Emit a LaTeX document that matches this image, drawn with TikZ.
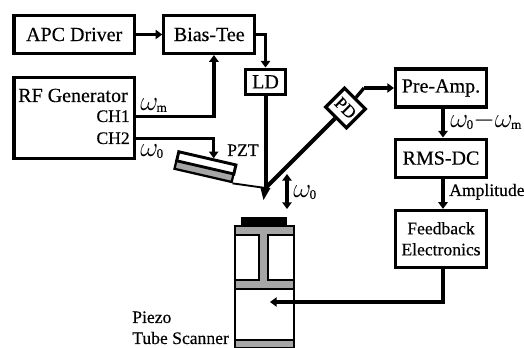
\documentclass[tikz,border=0pt]{standalone}
\usepackage{fontspec}
\setmainfont{Liberation Serif}[RawFeature={embolden=0.35}]
\usepackage{amsmath, amssymb}
\usetikzlibrary{arrows.meta, positioning, calc}

\newcommand{\bigfont}{\fontsize{15}{18}\selectfont}
\newcommand{\smallfont}{\fontsize{13.2}{15.8}\selectfont}
\newcommand{\omegafont}{\fontsize{20}{24}\selectfont}
\newcommand{\wsub}[1]{\mkern-1mu\raisebox{-0.7pt}{$\scriptscriptstyle\mathrm{#1}$}}

\begin{document}
\begin{tikzpicture}[
    x=0.75pt, y=-0.75pt,
    box/.style={rectangle, draw, line width=2.4pt, align=center, inner sep=0pt, font=\bigfont},
    wire/.style={line width=2.5pt},
    arrow/.style={wire, -{Triangle[length=5pt,width=7pt]}},
    beam/.style={line width=3pt},
    lbl/.style={inner sep=0pt, font=\smallfont},
    omegalbl/.style={inner sep=0pt, font=\omegafont},
    tube/.style={draw, line width=1.7pt}
  ]
    \useasboundingbox (0,0) rectangle (524,348);

    % left column
    \node[box, minimum width=90.4pt, minimum height=28.5pt] (apc) at (74.2,34.5) {APC Driver};
    \node[box, minimum width=68.2pt, minimum height=28.5pt, right=19.6pt of apc] (bias) {Bias-Tee};
    \node[box, minimum width=30pt, minimum height=19pt] (ld) at (265.5,81.8) {LD};
    \node[box, minimum width=90.4pt, minimum height=60.7pt] (rf) at (74.2,118) {};
    \node[lbl, font=\bigfont, anchor=base west] (rfname) at (18,102) {RF Generator};
    \node[lbl, anchor=base east] (ch1) at (130,122) {CH1};
    \node[lbl, anchor=base east] (ch2) at (130,144) {CH2};

    % right column
    \node[box, minimum width=68.2pt, minimum height=28.5pt] (preamp) at (441,88) {Pre-Amp.};
    \node[box, minimum width=68.2pt, minimum height=28.5pt, below=21.7pt of preamp] (rms) {RMS-DC};
    \node[box, minimum width=68.2pt, minimum height=42.5pt, below=22.6pt of rms, font=\smallfont] (feedback) {Feedback\\Electronics};

    % PZT and cantilever
    \node[draw, line width=2.2pt, fill=white, rotate=-13, minimum width=44pt, minimum height=7pt, inner sep=0pt] (pzt) at (206.3,162.9) {};
    \node[draw, line width=1.7pt, fill=black!35, rotate=-13, minimum width=44pt, minimum height=6pt, inner sep=0pt] (pzthalf) at (204,171.5) {};
    \node[lbl, anchor=base west] (pztname) at (227,156) {PZT};
    \coordinate (tip) at (265.5,188);
    \coordinate (tipend) at (263.5,200);
    \fill ($(tip)+(-5,0)$) -- ($(tip)+(5,0)$) -- (tipend) -- cycle;
    \draw[line width=1.4pt] (pzthalf.south east) -- (tip);

    % photodiode
    \node[box, fill=white, rotate=-45, minimum width=22pt, minimum height=20pt, font=\smallfont] (pd) at (345.5,108) {PD};
    \coordinate (pdturn) at (364,88);
    \draw[beam] (ld) -- (tip);
    \draw[beam] (tip) -- (pd);

    % scanner
    \fill (241,217) rectangle (287,226);
    \draw[tube, fill=black!35] (235,226) rectangle (294,348);
    \draw[tube, fill=white] (235,235) rectangle (259,280);
    \draw[tube, fill=white] (268,235) rectangle (294,280);
    \draw[tube, fill=white] (235,289) rectangle (294,340);
    \coordinate (scanin) at (270,302);

    % wires
    \draw[arrow] (apc) -- (bias);
    \draw[arrow] (rf.east |- ch1) -| ([xshift=3.5pt]bias.south);
    \draw[arrow] (bias.east) -| (ld.north);
    \draw[arrow] (rf.east |- ch2) -| ([xshift=4.5pt,yshift=-1pt]pzt.north);
    \draw[wire] (pd.north) -- (pdturn);
    \draw[arrow] (pdturn) -- (preamp.west);
    \draw[arrow] ([xshift=1.5pt]preamp.south) -- ([xshift=1.5pt]rms.north);
    \draw[arrow] ([xshift=1.5pt]rms.south) -- ([xshift=1.5pt]feedback.north);
    \draw[arrow] ([xshift=1.5pt]feedback.south) |- (scanin);

    % double arrow and labels
    \coordinate (shaketop) at (287,174);
    \coordinate (shakebot) at (287,209);
    \draw[wire, {Triangle[length=5pt,width=7pt]}-{Triangle[length=5pt,width=7pt]}] (shaketop) -- (shakebot);
    \node[omegalbl, anchor=base west] (wm) at (140,111) {$\omega\wsub{m}$};
    \node[omegalbl, anchor=base west] (w0) at (140,157) {$\omega\wsub{0}$};
    \node[omegalbl, anchor=base west] (wshake) at (293,198) {$\omega\wsub{0}$};
    \node[omegalbl, anchor=base west] (wdiff) at (450,128) {$\omega\wsub{0}{-}\omega\wsub{m}$};
    \node[lbl, anchor=base west] (amp) at (449,196) {Amplitude};
    \node[lbl, anchor=base west] (piezo) at (132,323) {Piezo};
    \node[lbl, anchor=base west] (scanner) at (132,344) {Tube Scanner};
\end{tikzpicture}
\end{document}
